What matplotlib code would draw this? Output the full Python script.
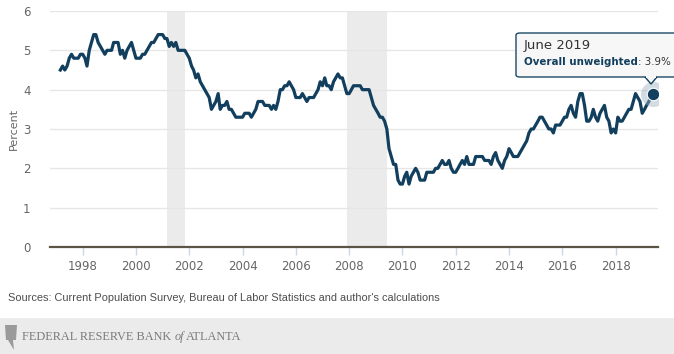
import matplotlib
matplotlib.use('Agg')
import matplotlib.pyplot as plt
from matplotlib.patches import FancyBboxPatch, Polygon, Rectangle
import numpy as np
import pandas as pd

# 月度数据，1997-03 起，到 2019-06
start_month = '1997-03'
v1997 = [4.5, 4.6, 4.5, 4.6, 4.8, 4.9, 4.8, 4.8, 4.8, 4.9]
v1998 = [4.9, 4.8, 4.6, 5.0, 5.2, 5.4, 5.4, 5.2, 5.1, 5.0, 4.9, 5.0]
v1999 = [5.0, 5.0, 5.2, 5.2, 5.2, 4.9, 5.0, 4.8, 5.0, 5.1, 5.2, 5.0]
v2000 = [4.8, 4.8, 4.8, 4.9, 4.9, 5.0, 5.1, 5.2, 5.2, 5.3, 5.4, 5.4]
v2001 = [5.4, 5.3, 5.3, 5.1, 5.2, 5.1, 5.2, 5.0, 5.0, 5.0, 5.0, 4.9]
v2002 = [4.8, 4.6, 4.5, 4.3, 4.4, 4.2, 4.1, 4.0, 3.9, 3.8, 3.5, 3.6]
v2003 = [3.7, 3.9, 3.5, 3.6, 3.6, 3.7, 3.5, 3.5, 3.4, 3.3, 3.3, 3.3]
v2004 = [3.3, 3.4, 3.4, 3.4, 3.3, 3.4, 3.5, 3.7, 3.7, 3.7, 3.6, 3.6]
v2005 = [3.6, 3.5, 3.6, 3.5, 3.7, 4.0, 4.0, 4.1, 4.1, 4.2, 4.1, 4.0]
v2006 = [3.8, 3.8, 3.8, 3.9, 3.8, 3.7, 3.8, 3.8, 3.8, 3.9, 4.0, 4.2]
v2007 = [4.1, 4.3, 4.1, 4.1, 4.0, 4.2, 4.3, 4.4, 4.3, 4.3, 4.1, 3.9]
v2008 = [3.9, 4.0, 4.1, 4.1, 4.1, 4.1, 4.0, 4.0, 4.0, 4.0, 3.8, 3.6]
v2009 = [3.5, 3.4, 3.3, 3.3, 3.2, 3.0, 2.5, 2.3, 2.1, 2.1, 1.7, 1.6]
v2010 = [1.6, 1.8, 1.9, 1.6, 1.8, 1.9, 2.0, 1.9, 1.7, 1.7, 1.7, 1.9]
v2011 = [1.9, 1.9, 1.9, 2.0, 2.0, 2.1, 2.2, 2.1, 2.1, 2.2, 2.0, 1.9]
v2012 = [1.9, 2.0, 2.1, 2.2, 2.1, 2.3, 2.1, 2.1, 2.1, 2.3, 2.3, 2.3]
v2013 = [2.3, 2.2, 2.2, 2.2, 2.1, 2.3, 2.4, 2.2, 2.1, 2.0, 2.2, 2.3]
v2014 = [2.5, 2.4, 2.3, 2.3, 2.3, 2.4, 2.5, 2.6, 2.7, 2.9, 3.0, 3.0]
v2015 = [3.1, 3.2, 3.3, 3.3, 3.2, 3.1, 3.0, 3.0, 2.9, 3.1, 3.1, 3.1]
v2016 = [3.2, 3.3, 3.3, 3.5, 3.6, 3.4, 3.3, 3.7, 3.9, 3.9, 3.6, 3.2]
v2017 = [3.2, 3.3, 3.5, 3.3, 3.2, 3.4, 3.5, 3.6, 3.3, 3.2, 2.9, 3.0]
v2018 = [2.9, 3.3, 3.2, 3.2, 3.3, 3.4, 3.5, 3.5, 3.7, 3.9, 3.8, 3.7]
v2019 = [3.4, 3.5, 3.6, 3.7, 3.8, 3.9]

recessions = [('2001-03-01', '2001-11-01'), ('2007-12-01', '2009-06-01')]
year_ticks = [1998, 2000, 2002, 2004, 2006, 2008, 2010, 2012, 2014, 2016, 2018]
y_ticks = [0, 1, 2, 3, 4, 5, 6]

values = (v1997 + v1998 + v1999 + v2000 + v2001 + v2002 + v2003 + v2004 + v2005 + v2006 + v2007
          + v2008 + v2009 + v2010 + v2011 + v2012 + v2013 + v2014 + v2015 + v2016 + v2017 + v2018 + v2019)
dates = pd.date_range(start_month, periods=len(values), freq='MS')

LINE = '#123f5e'
W, H = 674, 354

fig = plt.figure(figsize=(W / 100, H / 100), dpi=100)
ax = fig.add_axes([50 / W, 1 - 247 / H, 608 / W, 236 / H])

for a, b in recessions:
    ax.axvspan(pd.Timestamp(a), pd.Timestamp(b), color='#ebebeb', lw=0, zorder=0)

ax.plot(dates, values, color=LINE, lw=2.3, solid_joinstyle='round', zorder=3)
# 最后一个点 + 光晕
ax.plot(dates[-1], values[-1], 'o', ms=18, color='#9fb2c2', alpha=0.45, mec='none', zorder=4)
ax.plot(dates[-1], values[-1], 'o', ms=9, color=LINE, mec='white', mew=0.8, zorder=5)

ax.set_ylim(0, 6)
ax.set_xlim(pd.Timestamp('1996-10-10'), pd.Timestamp('2019-08-05'))
ax.set_yticks(y_ticks)
ax.set_xticks([pd.Timestamp(f'{y}-01-01') for y in year_ticks])
ax.set_xticklabels([str(y) for y in year_ticks])
ax.grid(axis='y', color='#e6e6e6', lw=1)
ax.set_axisbelow(True)
for s in ['top', 'right', 'left']:
    ax.spines[s].set_visible(False)
ax.spines['bottom'].set_color('#5c5347')
ax.spines['bottom'].set_linewidth(1.6)
ax.spines['bottom'].set_zorder(6)
ax.tick_params(axis='y', length=0, pad=14, labelsize=8.5, labelcolor='#666666')
ax.tick_params(axis='x', length=6, width=1, color='#ccd6eb', pad=3, labelsize=8.5, labelcolor='#666666')
ax.set_ylabel('Percent', fontsize=8, color='#666666', labelpad=3)

# tooltip
box = FancyBboxPatch((516 / W, 1 - 77 / H), 170 / W, 44 / H, boxstyle='round,pad=0,rounding_size=0.006',
                     transform=fig.transFigure, fc='#f7f7f7', ec=LINE, lw=1, alpha=0.95, zorder=10)
fig.patches.append(box)
tri = Polygon([(645 / W, 1 - 77 / H), (651 / W, 1 - 84 / H), (657 / W, 1 - 77 / H)], closed=False,
              transform=fig.transFigure, fc='#f7f7f7', ec=LINE, lw=1, zorder=11)
fig.patches.append(tri)
fig.patches.append(Rectangle((646 / W, 1 - 78 / H), 10 / W, 2 / H, transform=fig.transFigure,
                             fc='#f7f7f7', ec='none', zorder=12))
fig.text(524 / W, 1 - 45 / H, 'June 2019', fontsize=9.5, color='#333333', va='center', zorder=13)
t1 = fig.text(524 / W, 1 - 62 / H, 'Overall unweighted', fontsize=7.4, color=LINE, weight='bold',
              va='center', zorder=13)

fig.text(8 / W, 1 - 298 / H, "Sources: Current Population Survey, Bureau of Labor Statistics and author's calculations",
         fontsize=7.9, color='#4d4d4d', va='center', family='Liberation Sans')

# footer
fig.patches.append(Rectangle((0, 0), 1, 36 / H, transform=fig.transFigure, fc='#ebebeb', ec='none', zorder=0))
fig.patches.append(Polygon([(5 / W, 1 - 325 / H), (17 / W, 1 - 325 / H), (16 / W, 1 - 340 / H),
                            (13 / W, 1 - 340 / H), (14 / W, 1 - 350 / H), (8 / W, 1 - 340 / H),
                            (6 / W, 1 - 340 / H)], transform=fig.transFigure, fc='#9a9a9a', ec='none'))
ft = fig.text(22 / W, 1 - 337 / H, 'FEDERAL RESERVE BANK ', fontsize=8.8, color='#7a7a7a',
              family='Liberation Serif', va='center', zorder=2)

# 后续文字按前一段的宽度接上
fig.canvas.draw()
r = fig.canvas.get_renderer()
bb = t1.get_window_extent(r)
fig.text(bb.x1 / W, 1 - 62 / H, ': 3.9%', fontsize=7.4, color='#333333', va='center', zorder=13)
bb = ft.get_window_extent(r)
of = fig.text(bb.x1 / W, 1 - 337 / H, 'of', fontsize=8.8, color='#7a7a7a', family='Liberation Serif',
              style='italic', va='center', zorder=2)
fig.canvas.draw()
bb = of.get_window_extent(r)
fig.text(bb.x1 / W + 2 / W, 1 - 337 / H, 'ATLANTA', fontsize=8.8, color='#7a7a7a',
         family='Liberation Serif', va='center', zorder=2)

fig.savefig('out.png', dpi=100)
